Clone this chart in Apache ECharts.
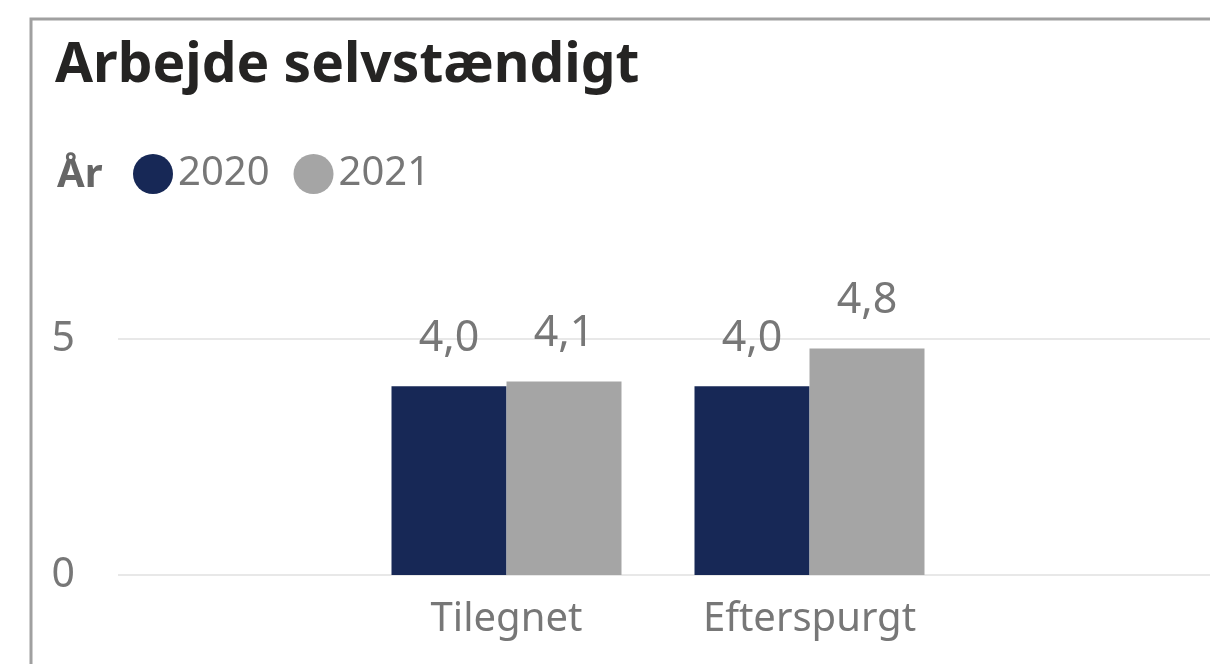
<!DOCTYPE html>
<html>
<head>
<meta charset="utf-8">
<script src="https://cdn.jsdelivr.net/npm/echarts@6/dist/echarts.min.js"></script>
<style>
  html, body { margin: 0; padding: 0; background: #fff; }
  #chart { width: 1210px; height: 664px; }
</style>
</head>
<body>
<div id="chart"></div>
<script>
// data
const categories = ['Tilegnet', 'Efterspurgt']
const years = ['2020', '2021']
const values2020 = [4.0, 4.0]
const values2021 = [4.1, 4.8]
const yTicks = [0, 5]

const FONT = '"Noto Sans", "Open Sans", sans-serif'
const TXT = '#777777'

const fmt = function (p) {
  return p.value.toFixed(1).replace('.', ',')
}

const chart = echarts.init(document.getElementById('chart'))

const option = {
  animation: false,
  textStyle: { fontFamily: FONT },
  title: [
    {
      text: 'Arbejde selvstændigt',
      left: 50,
      top: 34,
      textStyle: { fontSize: 55, fontWeight: 'bold', color: '#252423', fontFamily: FONT }
    },
    {
      text: 'År',
      left: 52,
      top: 151,
      textStyle: { fontSize: 40, fontWeight: 'bold', color: '#666666', fontFamily: FONT }
    }
  ],
  legend: {
    left: 128,
    top: 149,
    icon: 'circle',
    itemWidth: 40,
    itemHeight: 40,
    itemGap: 24,
    data: years,
    textStyle: { fontSize: 40, color: TXT, padding: [0, 0, 0, 0], fontFamily: FONT }
  },
  // grid 0 carries the full-width gridlines, grid 1 carries the bars
  grid: [
    { left: 118, right: 0, top: 339, bottom: 89 },
    { left: 355, width: 606, top: 339, bottom: 89 }
  ],
  xAxis: [
    { gridIndex: 0, type: 'category', data: categories, show: false },
    {
      gridIndex: 1,
      type: 'category',
      data: categories,
      axisLine: { show: false },
      axisTick: { show: false },
      axisLabel: { fontSize: 40, color: TXT, margin: 25, fontFamily: FONT }
    }
  ],
  yAxis: [
    {
      gridIndex: 0,
      type: 'value',
      min: yTicks[0],
      max: yTicks[1],
      interval: 5,
      axisLine: { show: false },
      axisTick: { show: false },
      axisLabel: { fontSize: 41, color: TXT, margin: 43, fontFamily: FONT },
      splitLine: { lineStyle: { color: '#e8e8e8', width: 2 } }
    },
    { gridIndex: 1, type: 'value', min: yTicks[0], max: yTicks[1], show: false }
  ],
  series: [
    {
      name: years[0],
      type: 'bar',
      xAxisIndex: 1,
      yAxisIndex: 1,
      data: values2020,
      barWidth: 115,
      barGap: '0%',
      itemStyle: { color: '#172856' },
      label: { show: true, position: 'top', distance: 26, fontSize: 43, color: TXT, formatter: fmt, fontFamily: FONT }
    },
    {
      name: years[1],
      type: 'bar',
      xAxisIndex: 1,
      yAxisIndex: 1,
      data: values2021,
      barWidth: 115,
      barGap: '0%',
      itemStyle: { color: '#a5a5a5' },
      label: { show: true, position: 'top', distance: 26, fontSize: 43, color: TXT, formatter: fmt, fontFamily: FONT }
    }
  ],
  graphic: [
    {
      type: 'rect',
      shape: { x: 31, y: 19, width: 1300, height: 800 },
      style: { fill: 'none', stroke: '#a0a0a0', lineWidth: 3 },
      silent: true
    }
  ]
}

chart.setOption(option)
</script>
</body>
</html>
